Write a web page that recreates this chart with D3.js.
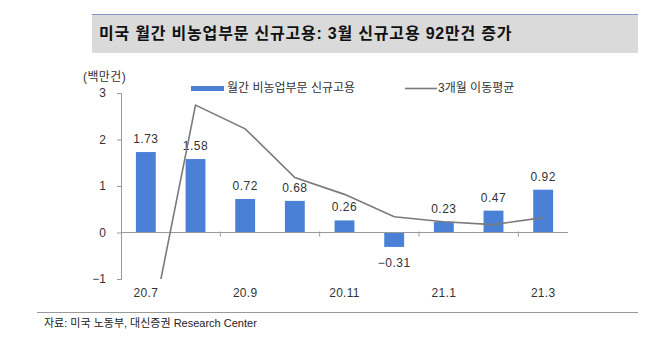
<!DOCTYPE html>
<html>
<head>
<meta charset="utf-8">
<script src="https://cdn.jsdelivr.net/npm/d3@7"></script>
<style>
  body { margin: 0; background: #fff; }
  svg { font-family: "Liberation Sans", Arial, "Noto Sans CJK KR", sans-serif; }
</style>
</head>
<body>
<div id="chart"></div>
<script>
// data
const months = ["20.7", "20.8", "20.9", "20.10", "20.11", "20.12", "21.1", "21.2", "21.3"];
const newJobs = [1.73, 1.58, 0.72, 0.68, 0.26, -0.31, 0.23, 0.47, 0.92];
const movingAvg = [-2.63, 2.74, 2.23, 1.18, 0.82, 0.34, 0.23, 0.17, 0.32];
const yTicks = [-1, 0, 1, 2, 3];
const shownMonths = ["20.7", "20.9", "20.11", "21.1", "21.3"];

const W = 660, H = 351;
const margin = {top: 93, right: 92, bottom: 72, left: 121};
const width = W - margin.left - margin.right;
const height = H - margin.top - margin.bottom;

const svg = d3.select("#chart")
  .append("svg")
  .attr("width", W)
  .attr("height", H);

// title box
svg.append("rect")
  .attr("x", 92).attr("y", 14)
  .attr("width", 546).attr("height", 39)
  .attr("fill", "#dadada");
svg.append("line")
  .attr("x1", 92).attr("x2", 638)
  .attr("y1", 14.5).attr("y2", 14.5)
  .attr("stroke", "#7f97c4").attr("stroke-width", 1.2);
svg.append("text")
  .attr("x", 99).attr("y", 39)
  .text("미국 월간 비농업부문 신규고용: 3월 신규고용 92만건 증가")
  .style("font-size", "16px")
  .style("letter-spacing", "0.8px")
  .style("font-weight", "bold")
  .style("fill", "#111");

const g = svg.append("g")
  .attr("transform", "translate(" + margin.left + "," + margin.top + ")");

const x = d3.scaleBand()
  .domain(months)
  .range([0, width])
  .paddingInner(0.6)
  .paddingOuter(0.3);

const y = d3.scaleLinear()
  .domain([-1, 3])
  .range([height, 0]);

// unit label
svg.append("text")
  .attr("x", 83).attr("y", 81)
  .text("(백만건)")
  .style("font-size", "12px")
  .style("letter-spacing", "0.4px")
  .style("fill", "#333");

// y axis
const yAxis = g.append("g")
  .call(d3.axisLeft(y).tickValues(yTicks).tickSize(4).tickPadding(11).tickFormat(d => d < 0 ? "\u22121" : d));
yAxis.select(".domain").attr("stroke", "#999");
yAxis.selectAll(".tick line").attr("stroke", "#999");
yAxis.selectAll(".tick text").style("font-size", "12px").style("fill", "#333");

// bars
g.selectAll(".bar")
  .data(newJobs)
  .enter()
  .append("rect")
  .attr("class", "bar")
  .attr("x", (d, i) => x(months[i]))
  .attr("width", x.bandwidth())
  .attr("y", d => y(Math.max(0, d)))
  .attr("height", d => Math.abs(y(d) - y(0)))
  .attr("fill", "#4a80d6");

// x axis at zero
const step = x.step();
const xAxis = g.append("g")
  .attr("transform", "translate(0," + y(0) + ")");
xAxis.append("line")
  .attr("x1", 0).attr("x2", width)
  .attr("stroke", "#999");
xAxis.selectAll(".tk")
  .data(d3.range(2, months.length, 2))
  .enter()
  .append("line")
  .attr("x1", d => d * step).attr("x2", d => d * step)
  .attr("y1", -1).attr("y2", 4)
  .attr("stroke", "#999");

// month labels at bottom
g.selectAll(".mlabel")
  .data(shownMonths)
  .enter()
  .append("text")
  .attr("x", d => x(d) + x.bandwidth() / 2)
  .attr("y", height + 18)
  .attr("text-anchor", "middle")
  .text(d => d)
  .style("font-size", "12px")
  .style("letter-spacing", "0.3px")
  .style("fill", "#333");

// value labels
g.selectAll(".vlabel")
  .data(newJobs)
  .enter()
  .append("text")
  .attr("x", (d, i) => x(months[i]) + x.bandwidth() / 2)
  .attr("y", d => d >= 0 ? y(d) - 9 : y(d) + 20)
  .attr("text-anchor", "middle")
  .text(d => d < 0 ? "\u2212" + Math.abs(d).toFixed(2) : d.toFixed(2))
  .style("font-size", "12px")
  .style("letter-spacing", "0.5px")
  .style("fill", "#333");

// moving average line, clipped to plot
g.append("clipPath")
  .attr("id", "plot-clip")
  .append("rect")
  .attr("x", 0).attr("y", 0)
  .attr("width", width).attr("height", height);

g.append("path")
  .datum(movingAvg)
  .attr("clip-path", "url(#plot-clip)")
  .attr("fill", "none")
  .attr("stroke", "#7a7a7a")
  .attr("stroke-width", 1.6)
  .attr("d", d3.line()
    .x((d, i) => x(months[i]) + x.bandwidth() / 2)
    .y(d => y(d)));

// legend
svg.append("rect")
  .attr("x", 191).attr("y", 86)
  .attr("width", 33).attr("height", 5)
  .attr("fill", "#4a80d6");
svg.append("text")
  .attr("x", 227).attr("y", 92)
  .text("월간 비농업부문 신규고용")
  .style("font-size", "12px")
  .style("fill", "#333");
svg.append("line")
  .attr("x1", 405).attr("x2", 437)
  .attr("y1", 88.5).attr("y2", 88.5)
  .attr("stroke", "#7a7a7a")
  .attr("stroke-width", 1.6);
svg.append("text")
  .attr("x", 438).attr("y", 92)
  .text("3개월 이동평균")
  .style("font-size", "12px")
  .style("fill", "#333");

// footer
svg.append("line")
  .attr("x1", 37).attr("x2", 638)
  .attr("y1", 312.5).attr("y2", 312.5)
  .attr("stroke", "#999")
  .attr("stroke-width", 1.2);
svg.append("text")
  .attr("x", 44).attr("y", 327)
  .text("자료: 미국 노동부, 대신증권 Research Center")
  .style("font-size", "11px")
  .style("fill", "#222");
</script>
</body>
</html>
